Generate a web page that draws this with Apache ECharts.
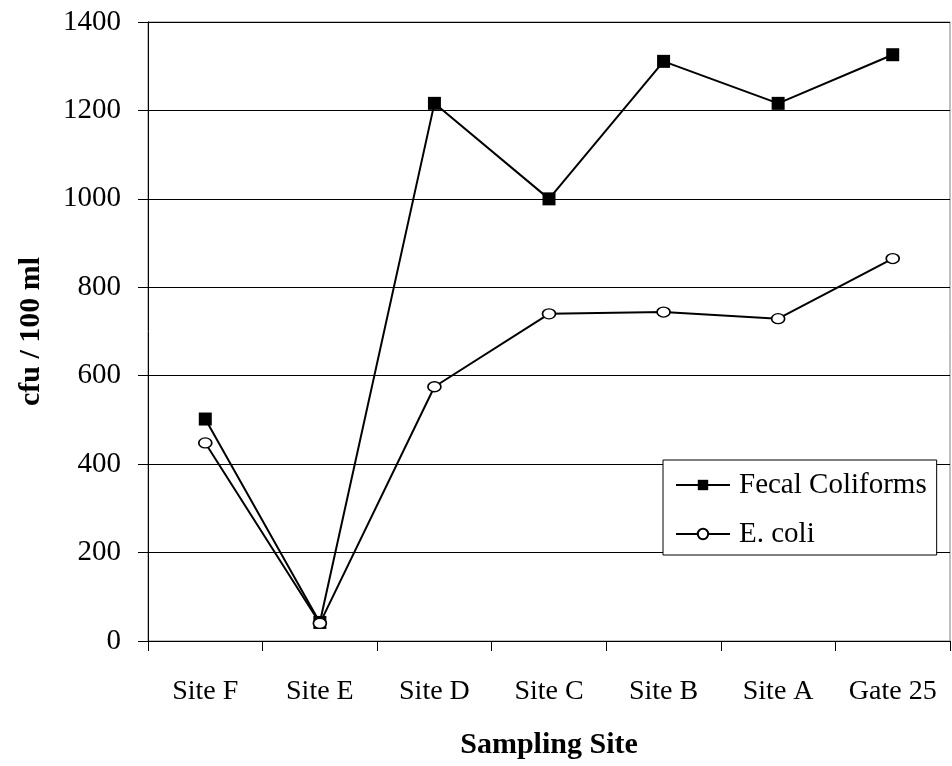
<!DOCTYPE html>
<html>
<head>
<meta charset="utf-8">
<script src="https://cdn.jsdelivr.net/npm/echarts@6/dist/echarts.min.js"></script>
<style>
  html, body { margin: 0; padding: 0; background: #fff; }
  #chart { width: 952px; height: 766px; }
</style>
</head>
<body>
<div id="chart"></div>
<script>
// Sampling sites along the route
const sites = ['Site F', 'Site E', 'Site D', 'Site C', 'Site B', 'Site A', 'Gate 25'];
// Bacterial counts (cfu / 100 ml)
const fecalColiforms = [502, 42, 1216, 1000, 1311, 1216, 1326];
const eColi = [448, 40, 575, 740, 744, 729, 865];
// Value-axis ticks
const yMin = 0, yMax = 1400, yStep = 200;

const serif = 'Liberation Serif';
const chart = echarts.init(document.getElementById('chart'));

chart.setOption({
  backgroundColor: '#fff',
  animation: false,
  grid: {
    left: 148, right: 2, top: 22, bottom: 125,
    show: true, borderColor: '#808080', borderWidth: 1
  },
  legend: {
    orient: 'vertical',
    left: 663, top: 460,
    padding: [10, 10, 6, 12],
    backgroundColor: '#fff',
    borderColor: '#000',
    borderWidth: 1,
    itemWidth: 54,
    itemHeight: 13,
    itemGap: 19,
    textStyle: { fontFamily: serif, fontSize: 29, lineHeight: 30, color: '#000', padding: [0, 0, 0, 4] },
    data: ['Fecal Coliforms', 'E. coli']
  },
  xAxis: {
    type: 'category',
    data: sites,
    boundaryGap: true,
    name: 'Sampling Site',
    nameLocation: 'middle',
    nameGap: 89,
    nameTextStyle: { fontFamily: serif, fontSize: 30, fontWeight: 'bold', color: '#000' },
    axisLine: { lineStyle: { color: '#000', width: 1 } },
    axisTick: { show: true, interval: 0, length: 10, alignWithLabel: false, lineStyle: { color: '#000' } },
    axisLabel: { interval: 0, fontFamily: serif, fontSize: 28, color: '#000', margin: 37, hideOverlap: false },
    splitLine: { show: false }
  },
  yAxis: {
    type: 'value',
    min: yMin, max: yMax, interval: yStep,
    name: 'cfu / 100 ml',
    nameLocation: 'middle',
    nameGap: 102,
    nameTextStyle: { fontFamily: serif, fontSize: 30, fontWeight: 'bold', color: '#000' },
    axisLine: { show: true, lineStyle: { color: '#000', width: 1 } },
    axisTick: { show: true, length: 10, lineStyle: { color: '#000' } },
    axisLabel: { fontFamily: serif, fontSize: 29, color: '#000', margin: 27, formatter: v => String(v) },
    splitLine: { show: true, lineStyle: { color: '#000', width: 1 } }
  },
  series: [
    {
      name: 'Fecal Coliforms',
      type: 'line',
      data: fecalColiforms,
      symbol: 'rect',
      symbolSize: 13,
      lineStyle: { color: '#000', width: 2 },
      itemStyle: { color: '#000', borderColor: '#000', borderWidth: 0 }
    },
    {
      name: 'E. coli',
      type: 'line',
      data: eColi,
      symbol: 'circle',
      symbolSize: [13, 10],
      lineStyle: { color: '#000', width: 2 },
      itemStyle: { color: '#fff', borderColor: '#000', borderWidth: 1.5 }
    }
  ]
});
</script>
</body>
</html>
